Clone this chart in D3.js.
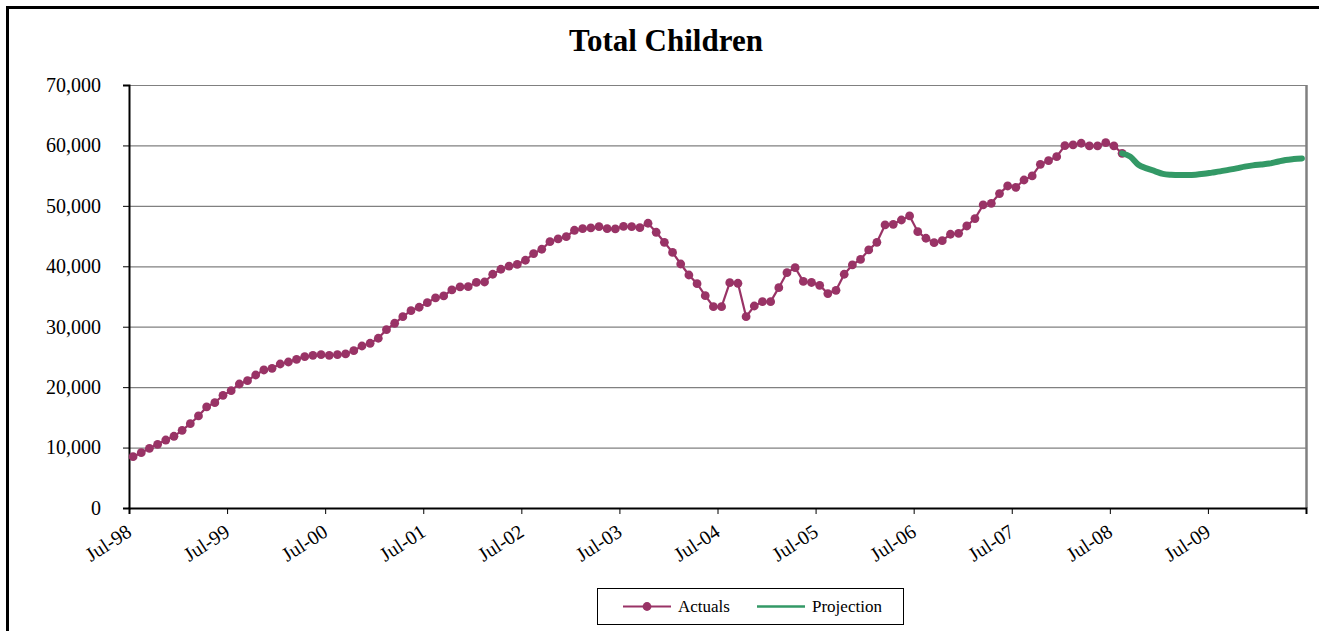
<!DOCTYPE html>
<html>
<head>
<meta charset="utf-8">
<script src="https://cdn.jsdelivr.net/npm/d3@7"></script>
<style>
  html, body { margin: 0; padding: 0; background: #fff; }
  svg { display: block; font-family: "Liberation Serif", "Times New Roman", serif; }
</style>
</head>
<body>
<svg id="chart" width="1319" height="631"></svg>
<script>
// Monthly caseload, July 1998 onward
const startYear = 1998;
const startMonth = 6; // July (0-based)
const monthCount = 144;

const actuals = [
  8490, 9150, 9880, 10540, 11250, 11870, 12860, 13950, 15230, 16720, 17430, 18650,
  19410, 20520, 21070, 22010, 22840, 23120, 23830, 24160, 24600, 25040, 25270, 25370,
  25270, 25370, 25490, 26030, 26810, 27260, 28090, 29510, 30570, 31660, 32650, 33220,
  33980, 34760, 35090, 36080, 36580, 36630, 37350, 37400, 38680, 39510, 40030, 40300,
  41000, 42100, 42820, 44070, 44520, 44900, 45960, 46220, 46340, 46560, 46220, 46180,
  46620, 46560, 46390, 47120, 45630, 43970, 42300, 40380, 38560, 37130, 35140, 33320,
  33320, 37290, 37190, 31660, 33430, 34150, 34150, 36460, 38940, 39770, 37500, 37320,
  36850, 35480, 36020, 38680, 40220, 41130, 42700, 43970, 46840, 46950, 47660, 48330,
  45730, 44640, 43910, 44240, 45300, 45460, 46670, 47890, 50150, 50420, 52030, 53290,
  53070, 54280, 54950, 56880, 57480, 58140, 59960, 60080, 60360, 59910, 59910, 60460,
  59910, 58700
];

// Projection begins at the last reported month
const projectionStart = 121;
const projection = [
  58700, 58150, 56800, 56200, 55750, 55300, 55150, 55100, 55100, 55150, 55300, 55500,
  55700, 55950, 56200, 56500, 56700, 56850, 57000, 57300, 57600, 57750, 57850
];

const yTicks = [0, 10000, 20000, 30000, 40000, 50000, 60000, 70000];
const monthNames = ["Jan","Feb","Mar","Apr","May","Jun","Jul","Aug","Sep","Oct","Nov","Dec"];

const months = d3.range(monthCount);
const monthLabel = i => {
  const m = startMonth + i;
  const y = startYear + Math.floor(m / 12);
  return monthNames[m % 12] + "-" + String(y % 100).padStart(2, "0");
};

const svg = d3.select("#chart");
const plot = { left: 129, right: 1306, top: 85, bottom: 508 };

// Chart border
svg.append("rect")
  .attr("x", 7.5).attr("y", 7.5)
  .attr("width", 1340).attr("height", 660)
  .attr("fill", "#fff").attr("stroke", "#000").attr("stroke-width", 3);

// Title
svg.append("text")
  .attr("x", 666).attr("y", 51)
  .attr("text-anchor", "middle")
  .attr("font-size", 31).attr("font-weight", "bold")
  .text("Total Children");

const x = d3.scaleBand().domain(months).range([plot.left, plot.right]).padding(0);
const y = d3.scaleLinear().domain([0, 70000]).range([plot.bottom, plot.top]);
const cx = i => x(i) + x.bandwidth() / 2;

// Gridlines
svg.append("g")
  .selectAll("line")
  .data(yTicks.filter(v => v > 0))
  .join("line")
  .attr("x1", plot.left).attr("x2", plot.right)
  .attr("y1", d => y(d) + 0.5).attr("y2", d => y(d) + 0.5)
  .attr("stroke", "#808080").attr("stroke-width", 1.2);

// Right edge of plot area
svg.append("line")
  .attr("x1", plot.right + 0.5).attr("x2", plot.right + 0.5)
  .attr("y1", plot.top).attr("y2", plot.bottom)
  .attr("stroke", "#808080").attr("stroke-width", 2.5);

// Y axis
const yAxis = d3.axisLeft(y)
  .tickValues(yTicks)
  .tickSize(6)
  .tickPadding(22)
  .tickFormat(d3.format(","));
const gy = svg.append("g")
  .attr("transform", `translate(${plot.left},0)`)
  .call(yAxis);
gy.select(".domain").attr("stroke", "#000").attr("stroke-width", 2);
gy.selectAll(".tick line").attr("stroke", "#000");
gy.selectAll(".tick text")
  .attr("font-family", "Liberation Serif, serif")
  .attr("font-size", 20).attr("fill", "#000");

// X axis: ticks at category boundaries, one per year
const yearStarts = months.filter(i => i % 12 === 0);
const xAxis = d3.axisBottom(d3.scaleLinear().domain([0, monthCount]).range([plot.left, plot.right]))
  .tickValues(yearStarts.concat([monthCount]))
  .tickSize(6)
  .tickFormat("");
const gx = svg.append("g")
  .attr("transform", `translate(0,${plot.bottom})`)
  .call(xAxis);
gx.select(".domain").attr("stroke", "#000").attr("stroke-width", 2);
gx.selectAll(".tick line").attr("stroke", "#000");

svg.append("g")
  .selectAll("text")
  .data(yearStarts)
  .join("text")
  .attr("transform", d => `translate(${x(d) + 4},${plot.bottom + 27}) rotate(-33)`)
  .attr("text-anchor", "end")
  .attr("font-size", 20)
  .text(d => monthLabel(d));

// Actuals series
const actualColor = "#993366";
const projColor = "#339966";

const lineGen = d3.line().x(d => cx(d.i)).y(d => y(d.v));
const actualPts = actuals.map((v, i) => ({ i, v }));
const projPts = projection.map((v, k) => ({ i: projectionStart + k, v }));

svg.append("path")
  .datum(actualPts)
  .attr("d", lineGen)
  .attr("fill", "none")
  .attr("stroke", actualColor)
  .attr("stroke-width", 2.2);

svg.append("g")
  .selectAll("circle")
  .data(actualPts)
  .join("circle")
  .attr("cx", d => cx(d.i))
  .attr("cy", d => y(d.v))
  .attr("r", 4.4)
  .attr("fill", actualColor);

// Projection series
svg.append("path")
  .datum(projPts)
  .attr("d", d3.line().x(d => cx(d.i)).y(d => y(d.v)).curve(d3.curveMonotoneX))
  .attr("fill", "none")
  .attr("stroke", projColor)
  .attr("stroke-width", 6)
  .attr("stroke-linecap", "round")
  .attr("stroke-linejoin", "round");

// Legend
const legend = svg.append("g").attr("transform", "translate(597,588)");
legend.append("rect")
  .attr("x", 0.5).attr("y", 0.5)
  .attr("width", 306).attr("height", 36)
  .attr("fill", "#fff").attr("stroke", "#000").attr("stroke-width", 1);
legend.append("line")
  .attr("x1", 26).attr("x2", 74).attr("y1", 18.5).attr("y2", 18.5)
  .attr("stroke", actualColor).attr("stroke-width", 2.2);
legend.append("circle")
  .attr("cx", 50).attr("cy", 18.5).attr("r", 4.4)
  .attr("fill", actualColor);
legend.append("text")
  .attr("x", 81).attr("y", 24)
  .attr("font-size", 17)
  .text("Actuals");
legend.append("line")
  .attr("x1", 160).attr("x2", 208).attr("y1", 18.5).attr("y2", 18.5)
  .attr("stroke", projColor).attr("stroke-width", 2.5);
legend.append("text")
  .attr("x", 215).attr("y", 24)
  .attr("font-size", 17)
  .text("Projection");
</script>
</body>
</html>
